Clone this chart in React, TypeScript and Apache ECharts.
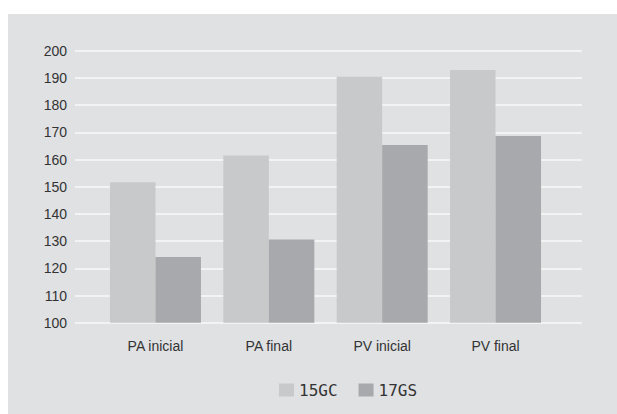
import React, { useEffect, useRef } from "react";
import * as echarts from "echarts";

const categories = ["PA inicial", "PA final", "PV inicial", "PV final"];
const seriesNames = ["15GC", "17GS"];
const values15GC = [151.6, 161.5, 190.4, 192.9];
const values17GS = [124.2, 130.6, 165.3, 168.6];
const yMin = 100;
const yMax = 200;
const yStep = 10;

const COLORS = ["#c8c9cb", "#a8a9ac"];
const BG = "#e0e1e3";
const FONT = "'Liberation Sans', Arial, sans-serif";

export default function App() {
  const ref = useRef<HTMLDivElement>(null);

  useEffect(() => {
    if (!ref.current) return;
    const chart = echarts.init(ref.current, undefined, { renderer: "svg" });
    const top = 36.7;
    const bottom = 91.3;
    chart.setOption({
      animation: false,
      backgroundColor: BG,
      grid: [
        // wide grid: y labels and horizontal gridlines
        { left: 67, right: 35, top, bottom },
        // narrower grid holding the bars
        { left: 90.8, right: 64.8, top, bottom },
      ],
      legend: {
        data: seriesNames,
        left: 266,
        top: 363,
        icon: "rect",
        itemWidth: 15,
        itemHeight: 13,
        itemGap: 21,
        textStyle: {
          fontFamily: "'DejaVu Sans Mono', monospace",
          fontSize: 16,
          color: "#333",
        },
      },
      xAxis: [
        {
          gridIndex: 0,
          type: "category",
          data: categories,
          axisLine: { show: false },
          axisTick: { show: false },
          axisLabel: { show: false },
          splitLine: { show: false },
        },
        {
          gridIndex: 1,
          type: "category",
          data: categories,
          axisLine: { show: false },
          axisTick: { show: false },
          axisLabel: {
            margin: 16,
            fontFamily: FONT,
            fontSize: 14,
            color: "#333",
          },
        },
      ],
      yAxis: [
        {
          gridIndex: 0,
          type: "value",
          min: yMin,
          max: yMax,
          interval: yStep,
          axisLine: { show: false },
          axisTick: { show: false },
          axisLabel: {
            margin: 8,
            fontFamily: FONT,
            fontSize: 14,
            color: "#333",
          },
          splitLine: { show: true, lineStyle: { color: "#f3f3f4", width: 2 } },
        },
        {
          gridIndex: 1,
          type: "value",
          min: yMin,
          max: yMax,
          interval: yStep,
          axisLine: { show: false },
          axisTick: { show: false },
          axisLabel: { show: false },
          splitLine: { show: false },
        },
      ],
      series: [
        {
          name: seriesNames[0],
          type: "bar",
          xAxisIndex: 1,
          yAxisIndex: 1,
          data: values15GC,
          barWidth: 45.5,
          barGap: "0%",
          itemStyle: { color: COLORS[0] },
        },
        {
          name: seriesNames[1],
          type: "bar",
          xAxisIndex: 1,
          yAxisIndex: 1,
          data: values17GS,
          barWidth: 45.5,
          barGap: "0%",
          itemStyle: { color: COLORS[1] },
        },
      ],
    });
    return () => chart.dispose();
  }, []);

  return (
    <div
      style={{
        position: "absolute",
        left: 0,
        top: 0,
        width: 617,
        height: 414,
        background: "#ffffff",
      }}
    >
      <div
        ref={ref}
        style={{ position: "absolute", left: 8, top: 14, width: 609, height: 400 }}
      />
    </div>
  );
}
